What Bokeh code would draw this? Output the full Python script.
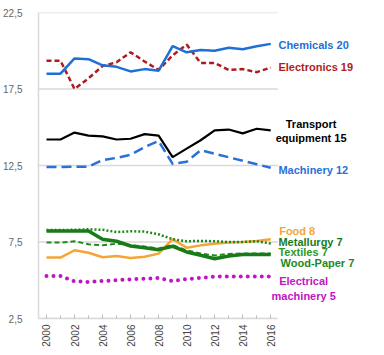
import math
from bokeh.plotting import figure
from bokeh.models import FixedTicker, Label
from bokeh.embed import file_html
from bokeh.resources import INLINE

years = list(range(2000, 2017))
chemicals = [18.5, 18.5, 19.5, 19.45, 19.05, 18.95, 18.65, 18.8, 18.7, 20.3, 19.9, 20.05, 20.0, 20.2, 20.1, 20.3, 20.45]
electronics = [19.35, 19.35, 17.5, 18.2, 19.0, 19.25, 19.9, 19.3, 18.75, 19.7, 20.4, 19.2, 19.2, 18.75, 18.8, 18.6, 18.9]
transport = [14.2, 14.2, 14.65, 14.45, 14.4, 14.2, 14.25, 14.55, 14.45, 13.05, 13.6, 14.15, 14.8, 14.85, 14.6, 14.9, 14.8]
machinery = [12.4, 12.4, 12.42, 12.42, 12.85, 13.0, 13.2, 13.7, 14.1, 12.6, 12.75, 13.5, 13.27, 13.04, 12.81, 12.58, 12.35]
food = [6.48, 6.48, 6.96, 6.8, 6.5, 6.58, 6.45, 6.54, 6.74, 7.68, 7.13, 7.28, 7.39, 7.46, 7.5, 7.57, 7.68]
metallurgy = [8.28, 8.28, 8.3, 8.33, 8.3, 8.15, 8.2, 8.18, 8.0, 7.68, 7.55, 7.57, 7.55, 7.5, 7.5, 7.55, 7.4]
textiles = [7.46, 7.46, 7.55, 7.35, 7.28, 7.39, 7.3, 7.2, 7.08, 7.3, 6.95, 6.75, 6.62, 6.72, 6.75, 6.75, 6.75]
wood_paper = [8.22, 8.22, 8.22, 8.22, 7.68, 7.55, 7.24, 7.13, 7.0, 7.22, 6.85, 6.63, 6.41, 6.58, 6.68, 6.68, 6.68]
electrical = [5.28, 5.28, 4.93, 4.89, 4.95, 5.0, 5.06, 5.1, 5.15, 4.95, 5.08, 5.15, 5.25, 5.25, 5.25, 5.25, 5.25]

y_ticks = [2.5, 7.5, 12.5, 17.5, 22.5]
y_tick_labels = ["2,5", "7,5", "12,5", "17,5", "22,5"]
x_ticks = list(range(2000, 2017, 2))

x_lo, x_hi = 1999.43, 2016.5

p = figure(width=380, height=352, output_backend="svg", toolbar_location=None,
           x_range=(x_lo, 2023.83), y_range=(2.5, 22.5),
           min_border_left=37, min_border_right=0, min_border_top=12, min_border_bottom=34)
p.outline_line_color = None
p.xgrid.grid_line_color = None
p.ygrid.grid_line_color = None

# horizontal gridlines limited to the plotting region
p.segment(x0=[x_lo] * len(y_ticks), x1=[x_hi] * len(y_ticks), y0=y_ticks, y1=y_ticks,
          line_color="#d9d9d9", line_width=1.5)

p.yaxis.ticker = FixedTicker(ticks=y_ticks)
p.yaxis.major_label_overrides = {t: l for t, l in zip(y_ticks, y_tick_labels)}
p.yaxis.major_tick_line_color = None
p.yaxis.minor_tick_line_color = None
p.yaxis.axis_line_color = "#d9d9d9"
p.yaxis.axis_line_width = 1.5
p.yaxis.major_label_text_font = "Liberation Sans"
p.yaxis.major_label_text_font_size = "10px"
p.yaxis.major_label_text_color = "#666666"
p.yaxis.major_label_standoff = 10

p.xaxis.ticker = FixedTicker(ticks=x_ticks, minor_ticks=years)
p.xaxis.bounds = (x_lo, x_hi)
p.xaxis.major_label_orientation = math.pi / 2
p.xaxis.axis_line_color = "#d9d9d9"
p.xaxis.axis_line_width = 1.5
p.xaxis.major_tick_in = 4
p.xaxis.major_tick_out = 0
p.xaxis.minor_tick_in = 3
p.xaxis.minor_tick_out = 0
p.xaxis.major_tick_line_color = "#bbbbbb"
p.xaxis.minor_tick_line_color = "#bbbbbb"
p.xaxis.major_label_text_font = "Liberation Sans"
p.xaxis.major_label_text_font_size = "10px"
p.xaxis.major_label_text_color = "#444444"
p.xaxis.major_label_standoff = 6

green = "#1e8a1e"
p.line(years, electrical, line_color="#c214c2", line_width=4, line_dash="0 7", line_cap="round")
p.line(years, food, line_color="#f5a537", line_width=2.5)
p.line(years, metallurgy, line_color=green, line_width=2.5, line_dash="2 2")
p.line(years, textiles, line_color=green, line_width=2, line_dash="5 3")
p.line(years, wood_paper, line_color="#1a7a1a", line_width=3.5)
p.line(years, machinery, line_color="#2a70d8", line_width=2.5, line_dash="10 5")
p.line(years, transport, line_color="black", line_width=2.2)
p.line(years, electronics, line_color="#b01c1c", line_width=2.5, line_dash="5 3")
p.line(years, chemicals, line_color="#1f6fd8", line_width=2.5)

font = "Liberation Sans"
def lab(x, y, text, color, align="left"):
    p.add_layout(Label(x=x, y=y, text=text, text_color=color, text_font=font,
                       text_font_style="bold", text_font_size="11px",
                       text_baseline="middle", text_align=align))

lab(2016.55, 20.39, "Chemicals 20", "#1f6fd8")
lab(2016.55, 18.92, "Electronics 19", "#b01c1c")
lab(2018.88, 15.23, "Transport", "black", "center")
lab(2018.88, 14.31, "equipment 15", "black", "center")
lab(2016.55, 12.22, "Machinery 12", "#2a70d8")
lab(2016.6, 8.25, "Food 8", "#f5a537")
lab(2016.55, 7.53, "Metallurgy 7", "#1a7a1a")
lab(2016.55, 6.87, "Textiles 7", "#2a9a2a")
lab(2016.7, 6.14, "Wood-Paper 7", "#1a8a1a")
lab(2018.35, 4.98, "Electrical", "#c214c2", "center")
lab(2018.35, 4.0, "machinery 5", "#c214c2", "center")

open("out.html", "w").write(file_html(p, INLINE))
